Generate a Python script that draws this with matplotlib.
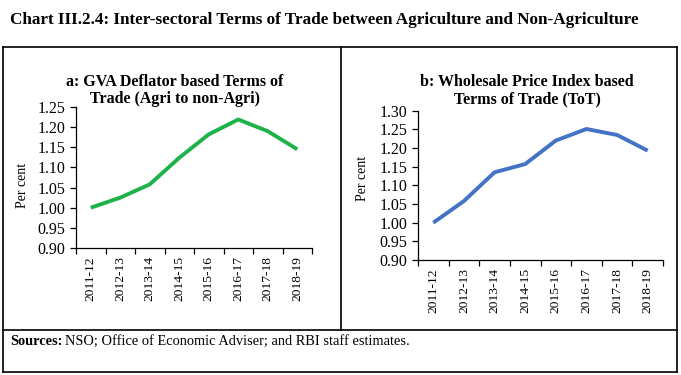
import matplotlib
matplotlib.use("Agg")
import matplotlib.pyplot as plt
from matplotlib.lines import Line2D

years = ["2011-12", "2012-13", "2013-14", "2014-15", "2015-16", "2016-17", "2017-18", "2018-19"]
gva_tot = [1.000, 1.025, 1.058, 1.124, 1.182, 1.219, 1.190, 1.145]
wpi_tot = [1.000, 1.058, 1.135, 1.157, 1.220, 1.251, 1.235, 1.193]

plt.rcParams["font.family"] = ["Liberation Serif", "DejaVu Serif"]

W, H = 681, 375
fig = plt.figure(figsize=(W / 100, H / 100), dpi=100)


def px(x0, y0, x1, y1):
    # pixel box (top-left origin) -> figure fraction rect
    return [x0 / W, 1 - y1 / H, (x1 - x0) / W, (y1 - y0) / H]


def hline(y, x0, x1):
    fig.add_artist(Line2D([x0 / W, x1 / W], [1 - y / H, 1 - y / H], color="black", lw=1.2))


def vline(x, y0, y1):
    fig.add_artist(Line2D([x / W, x / W], [1 - y0 / H, 1 - y1 / H], color="black", lw=1.2))


# table frame
hline(47, 3, 677); hline(330, 3, 677); hline(372, 3, 677)
vline(3, 47, 372); vline(677, 47, 372); vline(341, 47, 330)

fig.text(10 / W, 1 - 20 / H, "Chart III.2.4: Inter-sectoral Terms of Trade between Agriculture and Non-Agriculture",
         fontsize=12.3, fontweight="bold", va="center", ha="left")


def panel(rect, vals, color, ylim, yticks):
    ax = fig.add_axes(rect)
    xs = range(len(years))
    ax.plot(xs, vals, color=color, lw=2.8, solid_capstyle="butt")
    ax.set_xlim(-0.5, len(years) - 0.5)
    ax.set_ylim(*ylim)
    ax.set_yticks(yticks)
    ax.set_yticklabels([f"{v:.2f}" for v in yticks], fontsize=11.5)
    ax.set_xticks([i - 0.5 for i in range(len(years) + 1)])
    ax.set_xticklabels([])
    ax.set_xticks(list(xs), minor=True)
    ax.set_xticklabels(years, minor=True, rotation=90, fontsize=9.7)
    ax.tick_params(axis="x", which="minor", length=0, pad=6)
    ax.tick_params(axis="both", which="major", length=4, width=0.9, direction="out")
    for s in ("top", "right"):
        ax.spines[s].set_visible(False)
    for s in ("left", "bottom"):
        ax.spines[s].set_linewidth(0.9)
    return ax


panel(px(76, 107, 312, 248), gva_tot, "#1db34a", (0.90, 1.25),
      [0.90, 0.95, 1.00, 1.05, 1.10, 1.15, 1.20, 1.25])
panel(px(418, 110.7, 663, 260), wpi_tot, "#4472c4", (0.90, 1.30),
      [0.90, 0.95, 1.00, 1.05, 1.10, 1.15, 1.20, 1.25, 1.30])

tkw = dict(fontsize=11.5, fontweight="bold", ha="center", va="center")
fig.text(175 / W, 1 - 82 / H, "a: GVA Deflator based Terms of", **tkw)
fig.text(175 / W, 1 - 99 / H, "Trade (Agri to non-Agri)", **tkw)
fig.text(527 / W, 1 - 82 / H, "b: Wholesale Price Index based", **tkw)
fig.text(527 / W, 1 - 99 / H, "Terms of Trade (ToT)", **tkw)

fig.text(23 / W, 1 - 185 / H, "Per cent", fontsize=10, rotation=90, ha="center", va="center")
fig.text(363 / W, 1 - 178 / H, "Per cent", fontsize=10, rotation=90, ha="center", va="center")

# sources line: bold label then plain text on a shared baseline
src = fig.text(10 / W, 1 - 345 / H, "Sources:", fontsize=10.4, fontweight="bold", va="baseline", ha="left")
fig.canvas.draw()
bb = src.get_window_extent()
fig.text((bb.x1 + 3) / W, 1 - 345 / H, "NSO; Office of Economic Adviser; and RBI staff estimates.",
         fontsize=10.4, va="baseline", ha="left")

fig.savefig("out.png", dpi=100)
